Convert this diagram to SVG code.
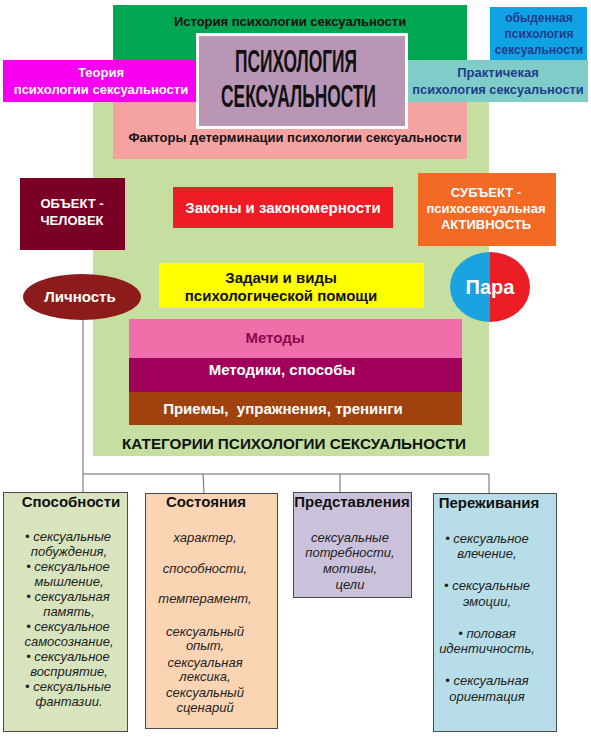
<svg xmlns="http://www.w3.org/2000/svg" width="591" height="738" viewBox="0 0 591 738">
<style>
text{font-family:"Liberation Sans",Arial,sans-serif;}
.b{font-weight:bold;}
.c{text-anchor:middle;}
.w{fill:#fff;}
.k{fill:#111;}
.nb{fill:#1f3b8c;}
.it{font-style:italic;font-size:13px;fill:#222;text-anchor:middle;}
.ttl{font-weight:bold;font-size:15px;fill:#111;text-anchor:middle;}
.bx{stroke:#4a4a4a;stroke-width:1;}
.con{stroke:#666;stroke-width:1;fill:none;}
</style>
<rect width="591" height="738" fill="#fff"/>
<g id="categories-bg">
<rect x="93" y="90" width="396" height="366" fill="#c4df9f"/>
<text class="b c k" x="294" y="449" font-size="15" textLength="344" lengthAdjust="spacingAndGlyphs">КАТЕГОРИИ ПСИХОЛОГИИ СЕКСУАЛЬНОСТИ</text>
</g>
<g id="history">
<rect x="113" y="5" width="354" height="75" fill="#00a651"/>
<text class="b c k" x="290" y="26" font-size="13">История психологии сексуальности</text>
</g>
<g id="factors">
<rect x="113" y="80" width="354" height="79" fill="#f5a3a0"/>
<text class="b c k" x="295" y="142" font-size="13">Факторы детерминации психологии сексуальности</text>
</g>
<g id="everyday">
<rect x="490" y="7" width="97" height="53" fill="#0fa3e6"/>
<text class="b c nb" x="539" y="22" font-size="12">обыденная</text>
<text class="b c nb" x="539" y="38" font-size="12">психология</text>
<text class="b c nb" x="539" y="54" font-size="12">сексуальности</text>
</g>
<g id="theory">
<rect x="3" y="60" width="193" height="42" fill="#f700f2"/>
<text class="b c w" x="101" y="77" font-size="13">Теория</text>
<text class="b c w" x="101" y="94" font-size="13">психологии сексуальности</text>
</g>
<g id="practical">
<rect x="408" y="60" width="180" height="42" fill="#80ccc9"/>
<text class="b c nb" x="498" y="77" font-size="13">Практичекая</text>
<text class="b c nb" x="498" y="94" font-size="12.8">психология сексуальности</text>
</g>
<g id="center">
<rect x="197.5" y="34.5" width="209" height="93" fill="#b996b6" stroke="#fff" stroke-width="3"/>
<text class="b c k" transform="translate(296 72) scale(0.56 1)" font-size="31">ПСИХОЛОГИЯ</text>
<text class="b c k" transform="translate(298.5 107) scale(0.56 1)" font-size="31">СЕКСУАЛЬНОСТИ</text>
</g>
<g id="object">
<rect x="20" y="178" width="105" height="72" fill="#7a0026"/>
<text class="b c w" x="72" y="208" font-size="13">ОБЪЕКТ -</text>
<text class="b c w" x="72" y="225" font-size="13">ЧЕЛОВЕК</text>
</g>
<g id="laws">
<rect x="173" y="187" width="220" height="41" fill="#ee1c25"/>
<text class="b c w" x="283" y="213" font-size="15">Законы и закономерности</text>
</g>
<g id="subject">
<rect x="418" y="173" width="138" height="73" fill="#f26a24"/>
<text class="b c w" x="486" y="197" font-size="13">СУБЪЕКТ -</text>
<text class="b c w" x="486" y="213" font-size="13">психосексуальная</text>
<text class="b c w" x="486" y="229" font-size="13">АКТИВНОСТЬ</text>
</g>
<g id="tasks">
<rect x="159" y="263" width="265" height="45" fill="#ffff00"/>
<text class="b c k" x="281" y="283" font-size="15">Задачи и виды</text>
<text class="b c k" x="281" y="301" font-size="15">психологической помощи</text>
</g>
<g id="personality">
<ellipse cx="82" cy="297" rx="59" ry="23" fill="#8c1c1c"/>
<text class="b c w" x="80" y="302" font-size="15">Личность</text>
</g>
<g id="couple">
<path d="M490 252 A40 35 0 0 0 490 322 Z" fill="#1aa3e0"/>
<path d="M490 252 A40 35 0 0 1 490 322 Z" fill="#ec1c24"/>
<text class="b c w" x="490" y="294" font-size="20">Пара</text>
</g>
<g id="methods">
<rect x="129" y="319" width="333" height="39" fill="#f06eaa"/>
<text class="b c" x="275" y="343" font-size="15" fill="#8b0a50">Методы</text>
</g>
<g id="techniques">
<rect x="129" y="358" width="333" height="34" fill="#a0005a"/>
<text class="b c w" x="282" y="375" font-size="15">Методики, способы</text>
</g>
<g id="exercises">
<rect x="129" y="392" width="333" height="33" fill="#a0420e"/>
<text class="b c w" x="283" y="414" font-size="15" xml:space="preserve">Приемы,  упражнения, тренинги</text>
</g>
<g id="connectors">
<path class="con" d="M83 320 V492"/>
<path class="con" d="M83 474 H489"/>
<path class="con" d="M203 474 L204 493"/>
<path class="con" d="M340 474 V492"/>
<path class="con" d="M489 474 V493"/>
</g>
<g id="abilities">
<rect class="bx" x="3.5" y="492.5" width="124" height="239" fill="#d7e4bd"/>
<text class="ttl" x="71" y="507">Способности</text>
<text class="it" x="68" y="541">• сексуальные</text>
<text class="it" x="69" y="556">побуждения,</text>
<text class="it" x="68" y="571">• сексуальное</text>
<text class="it" x="69" y="586">мышление,</text>
<text class="it" x="68" y="601">• сексуальная</text>
<text class="it" x="69" y="616">память,</text>
<text class="it" x="68" y="631">• сексуальное</text>
<text class="it" x="69" y="646">самосознание,</text>
<text class="it" x="68" y="661">• сексуальное</text>
<text class="it" x="69" y="676">восприятие,</text>
<text class="it" x="68" y="691">• сексуальные</text>
<text class="it" x="69" y="706">фантазии.</text>
</g>
<g id="states">
<rect class="bx" x="145.5" y="493.5" width="132" height="235" fill="#fbd4b4"/>
<text class="ttl" x="206" y="507">Состояния</text>
<text class="it" x="205" y="542">характер,</text>
<text class="it" x="205" y="573">способности,</text>
<text class="it" x="205" y="603">темперамент,</text>
<text class="it" x="205" y="636">сексуальный</text>
<text class="it" x="205" y="650">опыт,</text>
<text class="it" x="205" y="667">сексуальная</text>
<text class="it" x="205" y="681">лексика,</text>
<text class="it" x="205" y="697">сексуальный</text>
<text class="it" x="205" y="712">сценарий</text>
</g>
<g id="representations">
<rect class="bx" x="293.5" y="492.5" width="118" height="105" fill="#ccc1da"/>
<text class="ttl" x="352" y="507">Представления</text>
<text class="it" x="350" y="542">сексуальные</text>
<text class="it" x="350" y="557">потребности,</text>
<text class="it" x="350" y="573">мотивы,</text>
<text class="it" x="350" y="589">цели</text>
</g>
<g id="experiences">
<rect class="bx" x="433.5" y="493.5" width="123" height="238" fill="#b7dee8"/>
<text class="ttl" x="489" y="508">Переживания</text>
<text class="it" x="487" y="543">• сексуальное</text>
<text class="it" x="487" y="558">влечение,</text>
<text class="it" x="487" y="590">• сексуальные</text>
<text class="it" x="487" y="606">эмоции,</text>
<text class="it" x="487" y="638">• половая</text>
<text class="it" x="487" y="653">идентичность,</text>
<text class="it" x="487" y="685">• сексуальная</text>
<text class="it" x="487" y="701">ориентация</text>
</g>
</svg>
